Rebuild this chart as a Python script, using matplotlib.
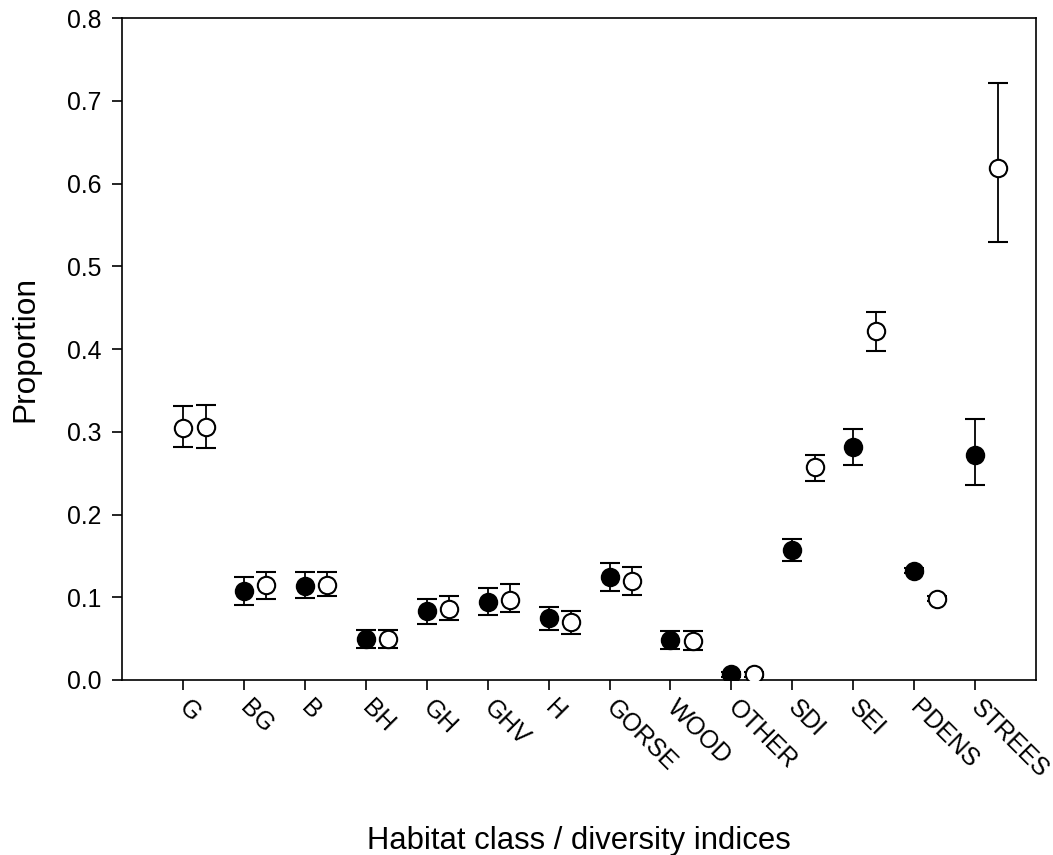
import numpy as np
import matplotlib
matplotlib.use("Agg")
import matplotlib.pyplot as plt

plt.rcParams['font.family'] = ['Liberation Sans', 'DejaVu Sans']

categories = ['G', 'BG', 'B', 'BH', 'GH', 'GHV', 'H', 'GORSE', 'WOOD', 'OTHER',
              'SDI', 'SEI', 'PDENS', 'STREES']

# filled circles (G shown as open circle in the original)
filled_mean = [0.305, 0.108, 0.114, 0.050, 0.083, 0.094, 0.075, 0.124, 0.048, 0.007,
               0.157, 0.282, 0.132, 0.272]
filled_upper = [0.331, 0.1245, 0.1305, 0.060, 0.098, 0.111, 0.088, 0.141, 0.059, 0.010,
                0.170, 0.304, 0.135, 0.315]
filled_lower = [0.282, 0.091, 0.0995, 0.039, 0.068, 0.078, 0.060, 0.107, 0.037, 0.004,
                0.144, 0.260, 0.129, 0.236]

open_mean = [0.306, 0.115, 0.115, 0.049, 0.086, 0.097, 0.070, 0.120, 0.047, 0.007,
             0.257, 0.422, 0.098, 0.619]
open_upper = [0.332, 0.130, 0.1305, 0.060, 0.102, 0.116, 0.083, 0.136, 0.059, 0.010,
              0.272, 0.445, 0.101, 0.722]
open_lower = [0.280, 0.098, 0.101, 0.039, 0.072, 0.082, 0.056, 0.103, 0.036, 0.004,
              0.241, 0.398, 0.095, 0.530]

x = np.arange(1, len(categories) + 1)
offset = 0.37

fig = plt.figure(figsize=(10.53, 8.55), dpi=100)
ax = fig.add_axes([0.1159, 0.2047, 0.868, 0.774])

fm = np.array(filled_mean)
om = np.array(open_mean)
ferr = [fm - np.array(filled_lower), np.array(filled_upper) - fm]
oerr = [om - np.array(open_lower), np.array(open_upper) - om]

style = dict(fmt='o', color='black', mec='black', ms=12.5, mew=1.5, capsize=7,
             elinewidth=1.3, capthick=1.3, zorder=3)
face = ['white'] + ['black'] * (len(categories) - 1)
for i in range(len(categories)):
    ax.errorbar(x[i], fm[i], yerr=[[ferr[0][i]], [ferr[1][i]]], mfc=face[i], **style)
ax.errorbar(x + offset, om, yerr=oerr, mfc='white', **style)

ax.set_xlim(0, 15)
ax.set_ylim(0, 0.8)
ax.set_yticks(np.arange(0, 0.81, 0.1))
ax.set_yticklabels([f'{v:.1f}' for v in np.arange(0, 0.81, 0.1)])
ax.set_xticks(x)
ax.set_xticklabels(categories, rotation=-45, ha='left', va='center', rotation_mode='anchor')
ax.tick_params(axis='both', direction='out', length=7, width=1.2, labelsize=17.8)
ax.tick_params(axis='y', pad=8)
ax.tick_params(axis='x', pad=10)
for s in ax.spines.values():
    s.set_linewidth(1.2)

ax.set_ylabel('Proportion', fontsize=22.8, labelpad=19)
ax.set_xlabel('Habitat class / diversity indices', fontsize=22.3, labelpad=32)

fig.savefig('out.png', dpi=100)
